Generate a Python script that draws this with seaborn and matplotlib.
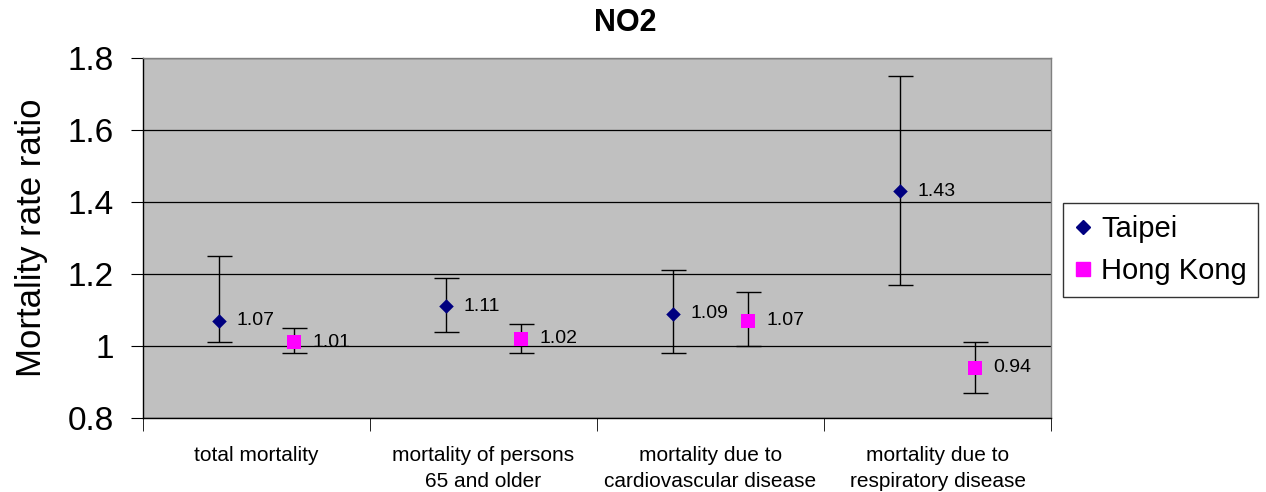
import numpy as np
import pandas as pd
import matplotlib
matplotlib.use("Agg")
import matplotlib.pyplot as plt
import seaborn as sns

# Data
categories = [
    "total mortality",
    "mortality of persons\n65 and older",
    "mortality due to\ncardiovascular disease",
    "mortality due to\nrespiratory disease",
]
taipei = [1.07, 1.11, 1.09, 1.43]
taipei_low = [1.01, 1.04, 0.98, 1.17]
taipei_high = [1.25, 1.19, 1.21, 1.75]
hongkong = [1.01, 1.02, 1.07, 0.94]
hongkong_low = [0.98, 0.98, 1.00, 0.87]
hongkong_high = [1.05, 1.06, 1.15, 1.01]
yticks = [0.8, 1.0, 1.2, 1.4, 1.6, 1.8]
ytick_labels = ["0.8", "1", "1.2", "1.4", "1.6", "1.8"]

plt.rcParams['font.family'] = ['Liberation Sans', 'DejaVu Sans']

series = [
    ("Taipei", taipei, taipei_low, taipei_high, -1 / 6, "D", "#000080", 55),
    ("Hong Kong", hongkong, hongkong_low, hongkong_high, 1 / 6, "s", "#FF00FF", 110),
]

fig = plt.figure(figsize=(12.66, 4.92), dpi=100)
ax = fig.add_axes([143 / 1266, 1 - 418 / 492, (1051 - 143) / 1266, (418 - 58) / 492])
ax.set_facecolor("#C0C0C0")

for name, vals, lo, hi, off, marker, color, size in series:
    df = pd.DataFrame({"x": np.arange(len(categories)) + off, "y": vals,
                       "lo": lo, "hi": hi})
    ax.errorbar(df["x"], df["y"], yerr=[df["y"] - df["lo"], df["hi"] - df["y"]],
                fmt="none", ecolor="black", elinewidth=1, capsize=9, capthick=1, zorder=3)
    sns.scatterplot(data=df, x="x", y="y", marker=marker, color=color, s=size,
                    edgecolor=color, linewidth=0, label=name, ax=ax, zorder=4, legend=False)
    for xi, yi in zip(df["x"], df["y"]):
        ax.annotate(f"{yi:.2f}", (xi, yi), xytext=(13, 0), textcoords="offset points",
                    va="center", ha="left", fontsize=14)

ax.set_xlim(-0.5, len(categories) - 0.5)
ax.set_ylim(0.8, 1.8)
ax.set_yticks(yticks)
ax.set_yticklabels(ytick_labels, fontsize=24)
ax.set_xticks(range(len(categories)))
ax.set_xticklabels(categories, fontsize=15)
for lbl in ax.get_xticklabels():
    lbl.set_linespacing(1.45)
ax.set_xticks(np.arange(-0.5, len(categories)), minor=True)
ax.tick_params(axis="x", which="major", length=0, pad=20)
ax.tick_params(axis="x", which="minor", length=9, direction="out", color="black")
ax.tick_params(axis="y", length=9, direction="out", color="black", pad=12)
ax.yaxis.grid(True, color="black", linewidth=0.9)
ax.set_axisbelow(True)
ax.set_xlabel("")
ax.set_ylabel("Mortality rate ratio", fontsize=25, labelpad=14)
fig.text(625 / 1266, 1 - 23 / 492, "NO2", fontsize=22, fontweight="bold",
         ha="center", va="center")

for side in ["left", "bottom"]:
    ax.spines[side].set_color("black")
    ax.spines[side].set_linewidth(1)
for side in ["top", "right"]:
    ax.spines[side].set_color("#808080")
    ax.spines[side].set_linewidth(1)

handles = [
    plt.Line2D([], [], marker="D", color="#000080", linestyle="none", markersize=7),
    plt.Line2D([], [], marker="s", color="#FF00FF", linestyle="none", markersize=10),
]
leg = fig.legend(handles, ["Taipei", "Hong Kong"], loc="center left",
                 bbox_to_anchor=(1063 / 1266, 1 - 250 / 492), fontsize=21,
                 frameon=True, fancybox=False, edgecolor="black", handlelength=0.6,
                 handletextpad=0.3, borderpad=0.4, labelspacing=0.5, borderaxespad=0)
leg.get_frame().set_linewidth(1)

fig.savefig("out.png", dpi=100)
